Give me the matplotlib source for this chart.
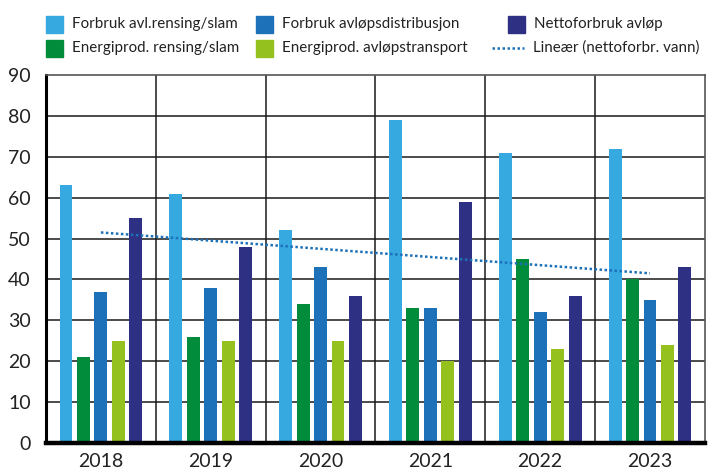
import matplotlib
matplotlib.use("Agg")
import matplotlib.pyplot as plt
from matplotlib.patches import Rectangle
import numpy as np

plt.rcParams['font.family'] = ['Lato', 'DejaVu Sans']

years = ['2018', '2019', '2020', '2021', '2022', '2023']
forbruk_rensing = [63, 61, 52, 79, 71, 72]
energi_rensing = [21, 26, 34, 33, 45, 40]
forbruk_distribusjon = [37, 38, 43, 33, 32, 35]
energi_transport = [25, 25, 25, 20, 23, 24]
netto_avlop = [55, 48, 36, 59, 36, 43]
# trend line endpoints (lineær, nettoforbr. vann)
trend_years = ['2018', '2023']
trend_values = [51.5, 41.5]

series = [
    ('Forbruk avl.rensing/slam', forbruk_rensing, '#36a9e1'),
    ('Energiprod. rensing/slam', energi_rensing, '#008c3a'),
    ('Forbruk avløpsdistribusjon', forbruk_distribusjon, '#1d71b8'),
    ('Energiprod. avløpstransport', energi_transport, '#95c11f'),
    ('Nettoforbruk avløp', netto_avlop, '#2e3083'),
]
trend_label = 'Lineær (nettoforbr. vann)'
trend_color = '#1d71b8'

fig = plt.figure(figsize=(7.1, 4.72), dpi=100)
ax = fig.add_axes([0.0648, 0.0614, 0.928, 0.7796])

x = np.arange(len(years))
w = 0.118
step = 0.159
for k, (name, vals, col) in enumerate(series):
    ax.bar(x + (k - 2) * step, vals, width=w, color=col, zorder=3)

tx = [years.index(t) for t in trend_years]
ax.plot(tx, trend_values, color=trend_color, linestyle=(0, (1, 1)), linewidth=1.8, zorder=4)

ax.set_xlim(-0.5, len(years) - 0.5)
ax.set_ylim(0, 90)
ax.set_yticks(range(0, 91, 10))
ax.set_xticks(x)
ax.set_xticklabels(years)
ax.tick_params(length=0, labelsize=14, colors='#222222')
ax.tick_params(axis='y', pad=11)
ax.tick_params(axis='x', pad=7)

for v in range(10, 90, 10):
    ax.axhline(v, color='#1a1a1a', linewidth=1.1, zorder=1)
for b in np.arange(0.5, len(years) - 1, 1.0):
    ax.axvline(b, color='#1a1a1a', linewidth=1.1, zorder=1)

for s in ['top', 'right']:
    ax.spines[s].set_color('#555555')
    ax.spines[s].set_linewidth(1.2)
ax.spines['left'].set_linewidth(2.2)
ax.spines['left'].set_color('black')
ax.spines['bottom'].set_linewidth(3.2)
ax.spines['bottom'].set_color('black')
ax.spines['bottom'].set_zorder(5)

# legend drawn by hand in pixel space, three columns
lg = fig.add_axes([0, 0, 1, 1], zorder=10)
lg.set_xlim(0, 710)
lg.set_ylim(472, 0)
lg.axis('off')

# pick a font size so the first label is about as wide as in the original (~164 px)
probe = lg.text(0, 0, series[0][0], fontsize=12)
r = fig.canvas.get_renderer()
pw = probe.get_window_extent(renderer=r).width
probe.remove()
lfs = 12 * 164 / pw

col_x = [46, 256, 508]
row_y = [24, 48]
for i, (name, _, col) in enumerate(series):
    cx = col_x[i // 2]
    cy = row_y[i % 2]
    lg.add_patch(Rectangle((cx, cy - 8.5), 17, 17, color=col))
    lg.text(cx + 26, cy, name, fontsize=lfs, va='center', ha='left', color='#222222')
lg.plot([492, 524], [row_y[1], row_y[1]], color=trend_color, linestyle=(0, (1, 1)), linewidth=1.8)
lg.text(col_x[2] + 25, row_y[1], trend_label, fontsize=lfs, va='center', ha='left', color='#222222')

fig.savefig('out.png', dpi=100)
